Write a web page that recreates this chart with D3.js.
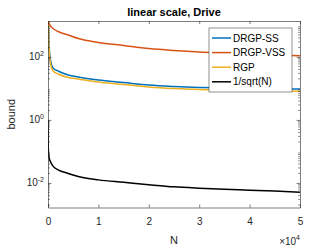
<!DOCTYPE html>
<html>
<head>
<meta charset="utf-8">
<script src="https://cdn.jsdelivr.net/npm/d3@7"></script>
<style>
  body { margin: 0; background: #fff; }
  svg { font-family: "Liberation Sans", Arial, sans-serif; }
  .axis path, .axis line { stroke: #262626; stroke-width: 0.6; }
  .axis text { fill: #262626; font-size: 10px; }
</style>
</head>
<body>
<svg width="332" height="249"></svg>
<script>
'use strict';

// sample points along N
const nValues = [1, 50, 200, 500, 1000, 2000, 4000, 6000, 10000, 15000, 20000, 25000, 30000, 35000, 40000, 45000, 50000];

const drgpSS  = [20000, 2500, 239, 80, 44.5, 35.7, 26.7, 23, 18.5, 15.4, 12.8, 11.5, 10.7, 10.3, 9.9, 9.6, 9.5];
const drgpVSS = [5000, 1600, 1194, 957, 798, 641, 497, 384, 287, 230, 185, 160, 143, 133, 124, 115, 109];
const rgp     = [15000, 2000, 192, 64, 35.7, 28.7, 22.2, 19.9, 16, 13.3, 11.1, 9.9, 9.2, 8.9, 8.6, 8.3, 8.2];
const invSqrt = [1.0, 0.14, 0.066, 0.047, 0.034, 0.026, 0.020, 0.016, 0.0125, 0.0105, 0.0088, 0.0075, 0.0068, 0.0063, 0.0059, 0.0055, 0.0051];

const seriesNames  = ["DRGP-SS", "DRGP-VSS", "RGP", "1/sqrt(N)"];
const seriesColors = ["#0072BD", "#D95319", "#EDB120", "#000000"];
const seriesData   = [drgpSS, drgpVSS, rgp, invSqrt];

const xTicks = [0, 10000, 20000, 30000, 40000, 50000];
const yTickExp = [-2, 0, 2];

const plot = { left: 48, right: 300, top: 21, bottom: 207.5 };

const svg = d3.select('svg');

const x = d3.scaleLinear().domain([0, 50000]).range([plot.left, plot.right]);
const y = d3.scaleLog().domain([Math.pow(10, -2.78), Math.pow(10, 3.14)]).range([plot.bottom, plot.top]);

svg.append('defs').append('clipPath').attr('id', 'clip')
  .append('rect')
  .attr('x', plot.left).attr('y', plot.top)
  .attr('width', plot.right - plot.left).attr('height', plot.bottom - plot.top);

/** curves */
const line = d3.line()
  .curve(d3.curveMonotoneX)
  .x(d => x(d[0]))
  .y(d => y(d[1]));

const curves = svg.append('g').attr('clip-path', 'url(#clip)');
seriesData.forEach((vals, i) => {
  curves.append('path')
    .datum(nValues.map((n, j) => [n, vals[j]]))
    .attr('d', line)
    .attr('fill', 'none')
    .attr('stroke', seriesColors[i])
    .attr('stroke-width', 1.5);
});

/** axes: ticks point inward, box on */
svg.append('g').classed('axis', true)
  .attr('transform', `translate(0,${plot.bottom})`)
  .call(d3.axisBottom(x).tickValues(xTicks).tickSize(-3).tickSizeOuter(0).tickPadding(10.5)
    .tickFormat(d => d / 10000));

svg.append('g').classed('axis', true)
  .attr('transform', `translate(0,${plot.top})`)
  .call(d3.axisTop(x).tickValues(xTicks).tickSize(-3).tickSizeOuter(0).tickFormat(''));

const yLeft = svg.append('g').classed('axis', true)
  .attr('transform', `translate(${plot.left},0)`)
  .call(d3.axisLeft(y).tickValues(yTickExp.map(e => Math.pow(10, e))).tickSize(-3.5).tickSizeOuter(0).tickPadding(10)
    .tickFormat(''));

svg.append('g').classed('axis', true)
  .attr('transform', `translate(${plot.right},0)`)
  .call(d3.axisRight(y).tickValues(yTickExp.map(e => Math.pow(10, e))).tickSize(-3.5).tickSizeOuter(0).tickFormat(''));

// minor ticks on the log axis
const minor = [];
for (let k = -3; k <= 3; k++) {
  for (let m = 2; m <= 9; m++) {
    const v = m * Math.pow(10, k);
    if (v >= y.domain()[0] && v <= y.domain()[1]) minor.push(v);
  }
}
const minorG = svg.append('g').attr('stroke', '#262626').attr('stroke-width', 0.5);
minor.forEach(v => {
  minorG.append('line').attr('x1', plot.left).attr('x2', plot.left + 2).attr('y1', y(v)).attr('y2', y(v));
  minorG.append('line').attr('x1', plot.right).attr('x2', plot.right - 2).attr('y1', y(v)).attr('y2', y(v));
});

// y tick labels as 10^k
yTickExp.forEach(e => {
  const t = svg.append('text')
    .attr('x', 44).attr('y', y(Math.pow(10, e)) + 3.5)
    .attr('text-anchor', 'end')
    .attr('fill', '#262626')
    .style('font-size', '10px');
  t.append('tspan').text('10');
  t.append('tspan').attr('dy', -4.5).style('font-size', '7px').text(e);
});

/** labels */
svg.append('text')
  .attr('x', (plot.left + plot.right) / 2).attr('y', 15.5)
  .attr('text-anchor', 'middle')
  .style('font-size', '11px').style('font-weight', 'bold')
  .text('linear scale, Drive');

svg.append('text')
  .attr('x', (plot.left + plot.right) / 2).attr('y', 243.5)
  .attr('text-anchor', 'middle').attr('fill', '#262626')
  .style('font-size', '11px')
  .text('N');

const xExp = svg.append('text')
  .attr('x', 300).attr('y', 245)
  .attr('text-anchor', 'end').attr('fill', '#262626')
  .style('font-size', '10px');
xExp.append('tspan').text('\u00d710');
xExp.append('tspan').attr('dy', -5).style('font-size', '7px').text('4');

svg.append('text')
  .attr('transform', `translate(14.5,${(plot.top + plot.bottom) / 2}) rotate(-90)`)
  .attr('text-anchor', 'middle').attr('fill', '#262626')
  .style('font-size', '11px')
  .text('bound');

/** legend */
const legend = svg.append('g').attr('transform', 'translate(209,28)');
legend.append('rect')
  .attr('width', 83).attr('height', 64)
  .attr('fill', '#fff').attr('stroke', '#262626').attr('stroke-width', 0.5);

seriesNames.forEach((name, i) => {
  const ly = 10 + i * 14.6;
  legend.append('line')
    .attr('x1', 3).attr('x2', 22).attr('y1', ly).attr('y2', ly)
    .attr('stroke', seriesColors[i]).attr('stroke-width', 1.5);
  legend.append('text')
    .attr('x', 24).attr('y', ly + 3.5)
    .attr('fill', '#000')
    .style('font-size', '10px')
    .text(name);
});
</script>
</body>
</html>
